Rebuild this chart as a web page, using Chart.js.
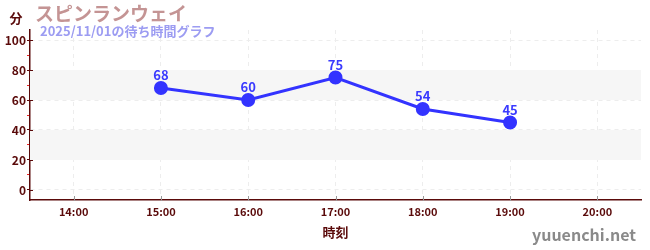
<!DOCTYPE html>
<html><head><meta charset="utf-8">
<script src="https://cdn.jsdelivr.net/npm/chart.js@4"></script>
<style>html,body{margin:0;padding:0;background:#fff}#wrap{width:650px;height:250px;position:relative}</style>
</head><body><div id="wrap"><canvas id="c" width="650" height="250"></canvas></div>
<script>
const categories = ["14:00","15:00","16:00","17:00","18:00","19:00","20:00"];
const waitTimes = [null, 68, 60, 75, 54, 45, null];
const yTickValues = [0,10,20,30,40,50,60,70,80,90,100];
const bands = [[20,40],[60,80]];
const titleText = "スピンランウェイ";
const subtitleText = "2025/11/01の待ち時間グラフ";
const yTitle = "分";
const xTitle = "時刻";
const watermark = "yuuenchi.net";

const FONT = "'Noto Sans CJK JP','Noto Sans',sans-serif";
const AXIS = "#5a0a0a";

const bandPlugin = {
  id: 'bands',
  beforeDatasetsDraw(chart) {
    const {ctx, chartArea: a, scales: {y}} = chart;
    ctx.save();
    ctx.fillStyle = '#f6f6f6';
    bands.forEach(([lo, hi]) => {
      const t = y.getPixelForValue(hi), b = y.getPixelForValue(lo);
      ctx.fillRect(a.left, t, a.right - a.left, b - t);
    });
    ctx.restore();
  }
};
const textPlugin = {
  id: 'texts',
  afterDraw(chart) {
    const {ctx, scales: {x, y}} = chart;
    ctx.save();
    // x tick marks crossing the axis upward
    ctx.strokeStyle = '#999';
    ctx.lineWidth = 1;
    x.ticks.forEach((t, i) => {
      const px = Math.round(x.getPixelForTick(i)) + 0.5;
      ctx.beginPath(); ctx.moveTo(px, y.bottom - 4); ctx.lineTo(px, y.bottom + 1); ctx.stroke();
    });
    // y major ticks extend past the axis
    ctx.strokeStyle = AXIS;
    y.ticks.forEach((t, i) => {
      if (t.value % 20 !== 0) return;
      const py = Math.round(y.getPixelForTick(i)) + 0.5;
      ctx.beginPath(); ctx.moveTo(x.left - 1, py); ctx.lineTo(x.left + 3, py); ctx.stroke();
    });
    // data labels
    const meta = chart.getDatasetMeta(0);
    ctx.fillStyle = '#3a3aff';
    ctx.font = "bold 13px " + FONT;
    ctx.textAlign = 'center';
    ctx.textBaseline = 'bottom';
    meta.data.forEach((pt, i) => {
      const v = waitTimes[i];
      if (v == null) return;
      ctx.fillText(String(v), pt.x, pt.y - 6);
    });
    // titles
    ctx.textAlign = 'left';
    ctx.textBaseline = 'alphabetic';
    ctx.fillStyle = '#c49494';
    ctx.font = "bold 19px " + FONT;
    ctx.fillText(titleText, 35, 21);
    ctx.fillStyle = '#9c9cf2';
    ctx.font = "bold 13px " + FONT;
    ctx.fillText(subtitleText, 40, 36);
    ctx.fillStyle = AXIS;
    ctx.font = "bold 13px " + FONT;
    ctx.textAlign = 'center';
    ctx.fillText(yTitle, 16, 23);
    ctx.fillText(xTitle, (chart.chartArea.left + chart.chartArea.right) / 2, 237);
    ctx.fillStyle = '#8a8a8a';
    ctx.font = "bold 16px " + FONT;
    ctx.textAlign = 'right';
    ctx.fillText(watermark, 636, 241);
    ctx.restore();
  }
};

new Chart(document.getElementById('c'), {
  type: 'line',
  data: {
    labels: categories,
    datasets: [{
      data: waitTimes,
      borderColor: '#3333ff',
      backgroundColor: '#3333ff',
      borderWidth: 3,
      pointRadius: 5.5,
      pointHoverRadius: 5.5,
      tension: 0,
      spanGaps: false
    }]
  },
  options: {
    responsive: false,
    animation: false,
    events: [],
    layout: { padding: { top: 30, right: 9, left: 0, bottom: 0 } },
    plugins: { legend: { display: false }, tooltip: { enabled: false }, title: { display: false } },
    scales: {
      x: {
        type: 'category',
        offset: true,
        border: { color: AXIS, width: 1.5, dash: [4, 4] },
        grid: { color: '#ededed', offset: false, drawTicks: true, tickLength: 3, tickColor: 'rgba(0,0,0,0)' },
        ticks: { color: AXIS, font: { family: FONT, size: 11, weight: 'bold' }, padding: 2, maxRotation: 0 },
        afterFit(s) { s.height = 50; }
      },
      y: {
        min: -6.67,
        max: 106.67,
        border: { color: AXIS, width: 1.5, dash: [4, 4] },
        afterBuildTicks(s) { s.ticks = yTickValues.map(v => ({ value: v })); },
        grid: {
          color: ctx => (ctx.tick && ctx.tick.value % 20 === 0) ? '#ededed' : 'rgba(0,0,0,0)',
          tickColor: ctx => (ctx.tick && ctx.tick.value % 20 === 0) ? AXIS : '#ee2222',
          tickLength: 3
        },
        ticks: {
          color: AXIS,
          font: { family: FONT, size: 12, weight: 'bold' },
          padding: 1,
          autoSkip: false,
          callback: v => (v % 20 === 0 ? String(v) : '')
        },
        afterFit(s) { s.width = 30; }
      }
    }
  },
  plugins: [bandPlugin, textPlugin]
});
</script></body></html>
